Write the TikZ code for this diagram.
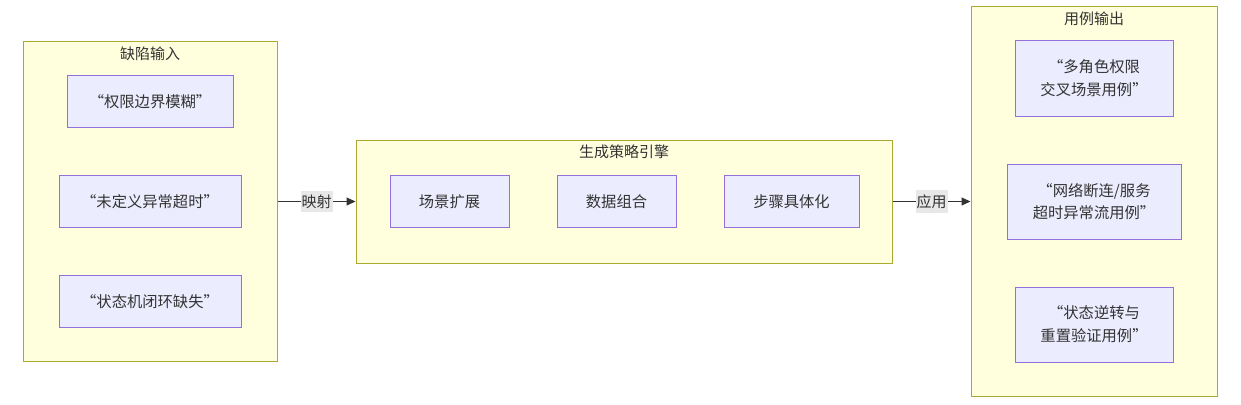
\documentclass[tikz,border=0pt]{standalone}
\usepackage{fontspec}
\setmainfont{Noto Sans CJK SC}
\usetikzlibrary{arrows.meta}
\definecolor{clfill}{HTML}{FFFFDE}
\definecolor{cldraw}{HTML}{AAAA33}
\definecolor{ndfill}{HTML}{ECECFF}
\definecolor{nddraw}{HTML}{9370DB}
\definecolor{txt}{HTML}{333333}
\definecolor{lblbg}{HTML}{E8E8E8}
\tikzset{
  cluster/.style={draw=cldraw, fill=clfill, line width=1pt, inner sep=0pt},
  cltitle/.style={text=txt, font=\fontsize{15}{18}\selectfont, inner sep=0pt},
  box/.style={draw=nddraw, fill=ndfill, line width=1pt, inner sep=0pt, align=center,
    text=txt, font=\fontsize{15.3}{22.7}\selectfont},
  edge/.style={draw=txt, line width=1pt, -{Triangle[length=9pt,width=8pt]}},
  elabel/.style={fill=lblbg, text=txt, font=\fontsize{15}{18}\selectfont, inner xsep=1pt, inner ysep=4pt}
}
\begin{document}
\begin{tikzpicture}[x=1pt,y=-1pt]
\useasboundingbox (0,0) rectangle (1241,404);
% clusters
\node[cluster, minimum width=254pt, minimum height=319pt] (in) at (150,201.5) {};
\node[cltitle] (intitle) at (150,54) {缺陷输入};
\node[cluster, minimum width=536pt, minimum height=123pt] (eng) at (624,201.5) {};
\node[cltitle] (engtitle) at (624,152) {生成策略引擎};
\node[cluster, minimum width=246pt, minimum height=389pt] (out) at (1094,201.5) {};
\node[cltitle] (outtitle) at (1094,19) {用例输出};
% left nodes
\node[box, minimum width=166pt, minimum height=52pt] (a1) at (150,101.5) {“权限边界模糊”};
\node[box, minimum width=182pt, minimum height=52pt] (a2) at (150,201.5) {“未定义异常超时”};
\node[box, minimum width=182pt, minimum height=52pt] (a3) at (150,301.5) {“状态机闭环缺失”};
% middle nodes
\node[box, minimum width=119pt, minimum height=52pt] (b1) at (449.5,201.5) {场景扩展};
\node[box, minimum width=119pt, minimum height=52pt] (b2) at (616.5,201.5) {数据组合};
\node[box, minimum width=135pt, minimum height=52pt] (b3) at (791.5,201.5) {步骤具体化};
% right nodes
\node[box, minimum width=158pt, minimum height=75pt] (c1) at (1094,78.5) {“多角色权限\\交叉场景用例”};
\node[box, minimum width=174pt, minimum height=75pt] (c2) at (1094,201.5) {“网络断连/服务\\超时异常流用例”};
\node[box, minimum width=158pt, minimum height=75pt] (c3) at (1094,324.5) {“状态逆转与\\重置验证用例”};
% edges
\draw[edge] (in.east) -- node[elabel] (l1) {映射} (eng.west);
\draw[edge] (eng.east) -- node[elabel] (l2) {应用} (out.west);
\end{tikzpicture}
\end{document}
